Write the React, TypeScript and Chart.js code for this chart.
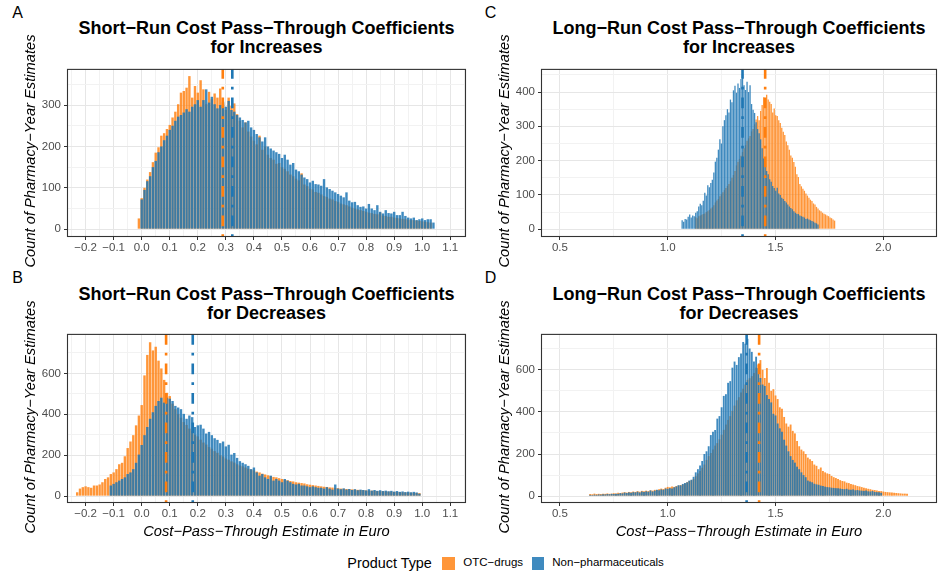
import React, { useEffect, useRef } from "react";
import { Chart, registerables } from "chart.js";

Chart.register(...registerables);

// ---------- colours ----------
const ORANGE_FILL = "rgba(255,127,14,0.82)";
const BLUE_FILL = "rgba(31,119,180,0.86)";
const ORANGE_LINE = "#FF7F0E";
const BLUE_LINE = "#1F77B4";

// ---------- tick labels ----------
const xMajorShort = [-0.2, -0.1, 0.0, 0.1, 0.2, 0.3, 0.4, 0.5, 0.6, 0.7, 0.8, 0.9, 1.0, 1.1];
const xMinorShort = [-0.25, -0.15, -0.05, 0.05, 0.15, 0.25, 0.35, 0.45, 0.55, 0.65, 0.75, 0.85, 0.95, 1.05, 1.15];
const xMajorLong = [0.5, 1.0, 1.5, 2.0];
const xMinorLong = [0.75, 1.25, 1.75];
const yMajorA = [0, 100, 200, 300];
const yMinorA = [50, 150, 250, 350];
const yMajorC = [0, 100, 200, 300, 400];
const yMinorC = [50, 150, 250, 350, 450];
const yMajorBD = [0, 200, 400, 600];
const yMinorBD = [100, 300, 500, 700];

// ---------- panel A: short-run, increases (bin 0.01) ----------
const srIncOTCStart = -0.01;
const srIncOTC = [
  26, 75, 100, 120, 138, 162, 185, 198, 226, 232, 242, 252, 270, 284, 302, 330, 334, 342, 370, 318,
  346, 330, 360, 338, 302, 332, 314, 328, 318, 340, 304, 288, 318, 298, 304, 278, 262, 246, 258, 236,
  224, 214, 205, 226, 192, 200, 180, 172, 168, 158, 160, 150, 146, 140, 132, 128, 122, 118, 135, 108,
  104, 98, 96, 90, 88, 84, 80, 78, 74, 72, 68, 66, 62, 60, 58, 55, 52, 50, 48, 46,
  44, 42, 40, 39, 37, 36, 40, 33, 32, 30, 30, 28, 27, 26, 25, 24, 23, 22, 22, 21,
  20, 19, 18, 17, 16,
];
const srIncNonPharmaStart = 0.0;
const srIncNonPharma = [
  72, 95, 116, 128, 150, 165, 186, 200, 215, 226, 240, 250, 262, 272, 276, 282, 290, 284, 296, 302,
  312, 296, 312, 338, 306, 320, 302, 292, 300, 308, 296, 310, 288, 284, 276, 270, 264, 258, 262, 246,
  240, 230, 222, 212, 222, 200, 195, 190, 186, 182, 172, 180, 168, 156, 160, 144, 140, 132, 125, 121,
  113, 117, 109, 108, 105, 121, 101, 97, 93, 89, 85, 81, 77, 89, 69, 65, 66, 58, 54, 55,
  50, 61, 50, 46, 58, 42, 38, 46, 39, 38, 42, 34, 34, 42, 32, 28, 26, 28, 22, 24,
  26, 22, 24, 24, 16,
];

// ---------- panel B: short-run, decreases (bin 0.01) ----------
const srDecOTCStart = -0.23;
const srDecOTC = [
  19, 37, 44, 48, 44, 41, 52, 52, 57, 68, 84, 92, 108, 116, 132, 156, 163, 195, 235, 267,
  298, 346, 394, 445, 590, 690, 752, 712, 730, 662, 624, 568, 505, 489, 452, 425, 402, 383, 362, 348,
  330, 318, 300, 292, 276, 262, 252, 240, 232, 220, 212, 200, 194, 184, 178, 170, 164, 156, 150, 146,
  140, 134, 130, 126, 120, 116, 110, 106, 102, 98, 94, 92, 88, 84, 80, 78, 74, 72, 68, 66,
  64, 62, 58, 56, 54, 52, 50, 48, 46, 45, 43, 42, 40, 39, 37, 36, 35, 34, 33, 32,
  31, 30, 29, 28, 27, 27, 26, 25, 24, 24, 23, 22, 22, 21, 20, 20, 19, 18, 18, 17,
  16, 16, 15,
];
const srDecNonPharmaStart = -0.11;
const srDecNonPharma = [
  52, 60, 68, 76, 84, 92, 108, 116, 132, 163, 203, 250, 298, 338, 378, 410, 441, 465, 481, 457,
  481, 476, 465, 441, 433, 425, 402, 378, 394, 386, 338, 346, 349, 330, 306, 314, 298, 283, 275, 259,
  267, 243, 251, 203, 211, 187, 171, 163, 156, 148, 132, 140, 116, 100, 108, 92, 84, 100, 76, 84,
  76, 68, 84, 76, 68, 60, 57, 60, 52, 52, 48, 44, 48, 44, 41, 41, 37, 44, 37, 32,
  57, 37, 34, 38, 32, 35, 30, 34, 29, 32, 30, 28, 34, 27, 30, 26, 29, 25, 27, 24,
  26, 22, 25, 21, 23, 20, 22, 19, 21, 18, 12,
];

// ---------- panel C: long-run, increases (bin 0.007) ----------
const lrIncOTCStart = 1.13;
const lrIncOTC = [
  35, 32, 38, 40, 42, 44, 46, 50, 52, 56, 60, 64, 70, 78, 84, 88, 96, 102, 108, 114,
  120, 126, 132, 140, 150, 158, 170, 186, 197, 205, 214, 225, 236, 245, 258, 265, 272, 285, 292, 306,
  320, 330, 318, 345, 362, 385, 370, 392, 378, 372, 365, 340, 352, 332, 330, 318, 310, 296, 284, 275,
  256, 245, 232, 215, 208, 196, 182, 160, 152, 132, 125, 118, 112, 104, 98, 92, 86, 82, 75, 72,
  65, 60, 55, 52, 48, 45, 43, 40, 38, 34, 32, 28, 25,
];
const lrIncNonPharmaStart = 1.067;
const lrIncNonPharma = [
  26, 22, 30, 28, 36, 43, 34, 40, 38, 48, 52, 66, 74, 70, 83, 106, 98, 128, 122, 135,
  144, 165, 197, 208, 232, 262, 250, 300, 318, 332, 350, 340, 378, 370, 405, 418, 398, 425, 412, 438,
  453, 420, 406, 430, 400, 420, 365, 348, 339, 312, 292, 280, 262, 236, 206, 192, 170, 160, 146, 138,
  126, 120, 112, 121, 104, 100, 92, 88, 82, 78, 72, 66, 62, 58, 52, 48, 45, 44, 40, 38,
  36, 34, 30, 31, 28, 26, 24, 22, 19, 17, 14,
];

// ---------- panel D: long-run, decreases (bin 0.01) ----------
const lrDecOTCStart = 0.64;
const lrDecOTC = [
  10, 9, 12, 10, 11, 10, 12, 11, 13, 11, 12, 14, 13, 16, 15, 17, 19, 17, 20, 18,
  22, 20, 24, 21, 25, 23, 26, 24, 28, 26, 30, 29, 33, 36, 34, 40, 44, 42, 46, 44,
  48, 50, 53, 56, 60, 66, 72, 76, 82, 95, 108, 120, 135, 150, 172, 190, 205, 222, 240, 252,
  270, 292, 315, 340, 362, 380, 405, 430, 455, 470, 492, 510, 530, 552, 560, 570, 585, 610, 625, 646,
  600, 561, 608, 538, 500, 508, 478, 461, 422, 415, 376, 345, 330, 340, 310, 298, 262, 237, 221, 213,
  200, 183, 175, 167, 150, 144, 128, 136, 120, 113, 108, 105, 96, 90, 86, 82, 76, 72, 70, 64,
  62, 58, 55, 52, 48, 46, 43, 40, 38, 35, 33, 30, 29, 27, 25, 24, 22, 20, 19, 18,
  17, 16, 15, 14, 13, 12, 12, 11,
];
const lrDecNonPharmaStart = 0.64;
const lrDecNonPharma = [
  6, 5, 7, 6, 8, 7, 9, 8, 10, 9, 11, 10, 12, 11, 14, 13, 17, 15, 18, 16,
  19, 18, 21, 17, 22, 20, 23, 21, 27, 22, 26, 30, 28, 32, 30, 36, 35, 38, 36, 42,
  46, 52, 51, 58, 62, 66, 74, 78, 92, 113, 128, 145, 167, 200, 213, 237, 290, 306, 314, 368,
  380, 422, 476, 484, 538, 546, 610, 639, 623, 660, 677, 732, 724, 747, 701, 685, 639, 662, 608, 561,
  530, 523, 480, 461, 445, 391, 383, 345, 322, 306, 268, 240, 213, 190, 172, 159, 140, 128, 113, 100,
  90, 74, 70, 66, 59, 56, 54, 50, 48, 45, 43, 42, 40, 39, 38, 37, 36, 34, 33, 35,
  31, 30, 32, 28, 29, 27, 26, 25, 27, 23, 22, 24, 20, 19, 18, 16,
];

// ---------- mean lines ----------
const meanA = { otc: 0.289, nonPharma: 0.323 };
const meanB = { otc: 0.087, nonPharma: 0.182 };
const meanC = { otc: 1.452, nonPharma: 1.347 };
const meanD = { otc: 1.424, nonPharma: 1.366 };

// ---------- text ----------
const Y_TITLE = "Count of Pharmacy\u2212Year Estimates";
const X_TITLE = "Cost\u2212Pass\u2212Through Estimate in Euro";
const LEGEND_TITLE = "Product Type";
const LEGEND_OTC = "OTC\u2212drugs";
const LEGEND_NP = "Non\u2212pharmaceuticals";

const FONT = '"Liberation Sans", Arial, Helvetica, sans-serif';

function toPoints(start: number, step: number, counts: number[]) {
  return counts.map((c, i) => ({ x: +(start + i * step).toFixed(4), y: c }));
}

type Rect = { l: number; t: number; r: number; b: number };
type PanelCfg = {
  rect: Rect;
  xMin: number;
  xMax: number;
  yMin: number;
  yMax: number;
  xMajor: number[];
  xMinor: number[];
  yMajor: number[];
  yMinor: number[];
  xDigits: number;
  otc: { x: number; y: number }[];
  nonPharma: { x: number; y: number }[];
  means: { otc: number; nonPharma: number };
};

const ML = 52;
const MT = 6;
const MR = 2;
const MB = 24;

function isIn(list: number[], v: number) {
  return list.some((m) => Math.abs(m - v) < 1e-6);
}
function fmt(v: number, d: number) {
  const s = Math.abs(v).toFixed(d);
  return v < -1e-9 ? "\u2212" + s : s;
}

function Panel({ cfg }: { cfg: PanelCfg }) {
  const ref = useRef<HTMLCanvasElement>(null);
  const { l, t, r, b } = cfg.rect;
  const W = r - l + ML + MR;
  const H = b - t + MT + MB;

  useEffect(() => {
    if (!ref.current) return;
    const overlay = {
      id: "overlay",
      afterDatasetsDraw(chart: any) {
        const { ctx, chartArea: a, scales } = chart;
        ctx.save();
        ctx.beginPath();
        ctx.rect(a.left, a.top, a.right - a.left, a.bottom - a.top);
        ctx.clip();
        const lines = [
          { v: cfg.means.otc, c: ORANGE_LINE },
          { v: cfg.means.nonPharma, c: BLUE_LINE },
        ];
        for (const ln of lines) {
          const x = scales.x.getPixelForValue(ln.v);
          ctx.strokeStyle = ln.c;
          ctx.lineWidth = 2.6;
          ctx.lineCap = "butt";
          ctx.setLineDash([2.7, 8, 10.8, 8]);
          ctx.beginPath();
          ctx.moveTo(x, a.bottom);
          ctx.lineTo(x, a.top);
          ctx.stroke();
        }
        ctx.restore();
        ctx.save();
        ctx.strokeStyle = "#333333";
        ctx.lineWidth = 1.1;
        ctx.setLineDash([]);
        ctx.strokeRect(a.left + 0.5, a.top + 0.5, a.right - a.left - 1, a.bottom - a.top - 1);
        ctx.restore();
      },
    };

    const gridCommon = (major: number[]) => ({
      color: (c: any) => (c.tick && isIn(major, c.tick.value) ? "#E6E6E6" : "#F2F2F2"),
      lineWidth: 1,
      drawTicks: true,
      tickLength: 3,
      tickWidth: 1,
      tickColor: (c: any) => (c.tick && isIn(major, c.tick.value) ? "#333333" : "rgba(0,0,0,0)"),
      offset: false,
    });

    const chart = new Chart(ref.current, {
      type: "bar",
      data: {
        datasets: [
          {
            label: LEGEND_NP,
            data: cfg.nonPharma as any,
            backgroundColor: BLUE_FILL,
            borderWidth: 0,
            grouped: false,
            order: 0,
            barPercentage: 0.86,
            categoryPercentage: 1,
          } as any,
          {
            label: LEGEND_OTC,
            data: cfg.otc as any,
            backgroundColor: ORANGE_FILL,
            borderWidth: 0,
            grouped: false,
            order: 1,
            barPercentage: 0.86,
            categoryPercentage: 1,
          } as any,
        ],
      },
      options: {
        animation: false,
        responsive: false,
        maintainAspectRatio: false,
        layout: { padding: { top: MT, right: MR, left: 0, bottom: 0 } },
        plugins: { legend: { display: false }, tooltip: { enabled: false }, title: { display: false } },
        scales: {
          x: {
            type: "linear",
            min: cfg.xMin,
            max: cfg.xMax,
            bounds: "data",
            offset: false,
            border: { display: false },
            grid: gridCommon(cfg.xMajor),
            afterBuildTicks: (axis: any) => {
              axis.ticks = [...cfg.xMajor, ...cfg.xMinor].sort((p, q) => p - q).map((v) => ({ value: v }));
            },
            afterFit: (s: any) => {
              s.height = MB;
            },
            ticks: {
              autoSkip: false,
              maxRotation: 0,
              minRotation: 0,
              padding: 1,
              color: "#4D4D4D",
              font: { family: FONT, size: 11.5 },
              callback: (v: any) => (isIn(cfg.xMajor, Number(v)) ? fmt(Number(v), cfg.xDigits) : ""),
            },
          },
          y: {
            type: "linear",
            min: cfg.yMin,
            max: cfg.yMax,
            bounds: "data",
            border: { display: false },
            grid: gridCommon(cfg.yMajor),
            afterBuildTicks: (axis: any) => {
              axis.ticks = [...cfg.yMajor, ...cfg.yMinor].sort((p, q) => p - q).map((v) => ({ value: v }));
            },
            afterFit: (s: any) => {
              s.width = ML;
            },
            ticks: {
              autoSkip: false,
              padding: 3,
              color: "#4D4D4D",
              font: { family: FONT, size: 11.5 },
              callback: (v: any) => (isIn(cfg.yMajor, Number(v)) ? String(Math.round(Number(v))) : ""),
            },
          },
        },
      } as any,
      plugins: [overlay],
    });
    return () => chart.destroy();
  }, []);

  return (
    <canvas
      ref={ref}
      width={W}
      height={H}
      style={{ position: "absolute", left: l - ML, top: t - MT, width: W, height: H }}
    />
  );
}

function TextAt(props: {
  x: number;
  y: number;
  children: React.ReactNode;
  size: number;
  bold?: boolean;
  italic?: boolean;
  align?: "center" | "left";
  color?: string;
}) {
  const { x, y, size, bold, italic, align = "center", color = "#000" } = props;
  const tx = align === "center" ? "-50%" : "0";
  return (
    <div
      style={{
        position: "absolute",
        left: x,
        top: y,
        transform: `translate(${tx}, -50%)`,
        fontFamily: FONT,
        fontSize: size,
        fontWeight: bold ? 700 : 400,
        fontStyle: italic ? "italic" : "normal",
        whiteSpace: "nowrap",
        lineHeight: 1,
        color,
        textAlign: "center",
      }}
    >
      {props.children}
    </div>
  );
}

function YTitle({ x, y }: { x: number; y: number }) {
  return (
    <div
      style={{
        position: "absolute",
        left: x,
        top: y,
        transform: "translate(-50%, -50%) rotate(-90deg)",
        fontFamily: FONT,
        fontSize: 14.7,
        fontStyle: "italic",
        whiteSpace: "nowrap",
        lineHeight: 1,
        color: "#000",
      }}
    >
      {Y_TITLE}
    </div>
  );
}

function Title({ cx, y1, line1, line2 }: { cx: number; y1: number; line1: string; line2: string }) {
  return (
    <>
      <TextAt x={cx} y={y1} size={18} bold>
        {line1}
      </TextAt>
      <TextAt x={cx} y={y1 + 18.5} size={18} bold>
        {line2}
      </TextAt>
    </>
  );
}

const rectA: Rect = { l: 67, t: 65, r: 466, b: 237 };
const rectB: Rect = { l: 67, t: 330, r: 466, b: 503 };
const rectC: Rect = { l: 541, t: 65, r: 937, b: 237 };
const rectD: Rect = { l: 541, t: 330, r: 937, b: 503 };

const panels: PanelCfg[] = [
  {
    rect: rectA,
    xMin: -0.2663,
    xMax: 1.1561,
    yMin: -18.9,
    yMax: 387.4,
    xMajor: xMajorShort,
    xMinor: xMinorShort,
    yMajor: yMajorA,
    yMinor: yMinorA,
    xDigits: 1,
    otc: toPoints(srIncOTCStart, 0.01, srIncOTC),
    nonPharma: toPoints(srIncNonPharmaStart, 0.01, srIncNonPharma),
    means: meanA,
  },
  {
    rect: rectB,
    xMin: -0.2663,
    xMax: 1.1561,
    yMin: -33.4,
    yMax: 792.7,
    xMajor: xMajorShort,
    xMinor: xMinorShort,
    yMajor: yMajorBD,
    yMinor: yMinorBD,
    xDigits: 1,
    otc: toPoints(srDecOTCStart, 0.01, srDecOTC),
    nonPharma: toPoints(srDecNonPharmaStart, 0.01, srDecNonPharma),
    means: meanB,
  },
  {
    rect: rectC,
    xMin: 0.4123,
    xMax: 2.249,
    yMin: -22.8,
    yMax: 467.5,
    xMajor: xMajorLong,
    xMinor: xMinorLong,
    yMajor: yMajorC,
    yMinor: yMinorC,
    xDigits: 1,
    otc: toPoints(lrIncOTCStart, 0.007, lrIncOTC),
    nonPharma: toPoints(lrIncNonPharmaStart, 0.007, lrIncNonPharma),
    means: meanC,
  },
  {
    rect: rectD,
    xMin: 0.4123,
    xMax: 2.249,
    yMin: -32.5,
    yMax: 770.3,
    xMajor: xMajorLong,
    xMinor: xMinorLong,
    yMajor: yMajorBD,
    yMinor: yMinorBD,
    xDigits: 1,
    otc: toPoints(lrDecOTCStart, 0.01, lrDecOTC),
    nonPharma: toPoints(lrDecNonPharmaStart, 0.01, lrDecNonPharma),
    means: meanD,
  },
];

export default function App() {
  const cxL = (rectA.l + rectA.r) / 2;
  const cxR = (rectC.l + rectC.r) / 2;
  return (
    <div
      style={{
        position: "fixed",
        left: 0,
        top: 0,
        width: 939,
        height: 574,
        overflow: "hidden",
        background: "#FFFFFF",
      }}
    >
      {panels.map((p, i) => (
        <Panel key={i} cfg={p} />
      ))}

      <TextAt x={17.5} y={12.5} size={16}>A</TextAt>
      <TextAt x={490.5} y={12.5} size={16}>C</TextAt>
      <TextAt x={17.5} y={278} size={16}>B</TextAt>
      <TextAt x={490.5} y={278} size={16}>D</TextAt>

      <Title cx={cxL} y1={28.3} line1={"Short\u2212Run Cost Pass\u2212Through Coefficients"} line2="for Increases" />
      <Title cx={cxR} y1={28.3} line1={"Long\u2212Run Cost Pass\u2212Through Coefficients"} line2="for Increases" />
      <Title cx={cxL} y1={294} line1={"Short\u2212Run Cost Pass\u2212Through Coefficients"} line2="for Decreases" />
      <Title cx={cxR} y1={294} line1={"Long\u2212Run Cost Pass\u2212Through Coefficients"} line2="for Decreases" />

      <YTitle x={29.5} y={151} />
      <YTitle x={503.5} y={151} />
      <YTitle x={29.5} y={416.5} />
      <YTitle x={503.5} y={416.5} />

      <TextAt x={cxL} y={531} size={14.7} italic>{X_TITLE}</TextAt>
      <TextAt x={cxR} y={531} size={14.7} italic>{X_TITLE}</TextAt>

      <TextAt x={347.3} y={563} size={14.4} align="left">{LEGEND_TITLE}</TextAt>
      <div style={{ position: "absolute", left: 442, top: 557, width: 12.5, height: 12.5, background: ORANGE_FILL }} />
      <TextAt x={463.3} y={563} size={11.5} align="left">{LEGEND_OTC}</TextAt>
      <div style={{ position: "absolute", left: 531.5, top: 557, width: 12.5, height: 12.5, background: BLUE_FILL }} />
      <TextAt x={552.3} y={563} size={11.5} align="left">{LEGEND_NP}</TextAt>
    </div>
  );
}
